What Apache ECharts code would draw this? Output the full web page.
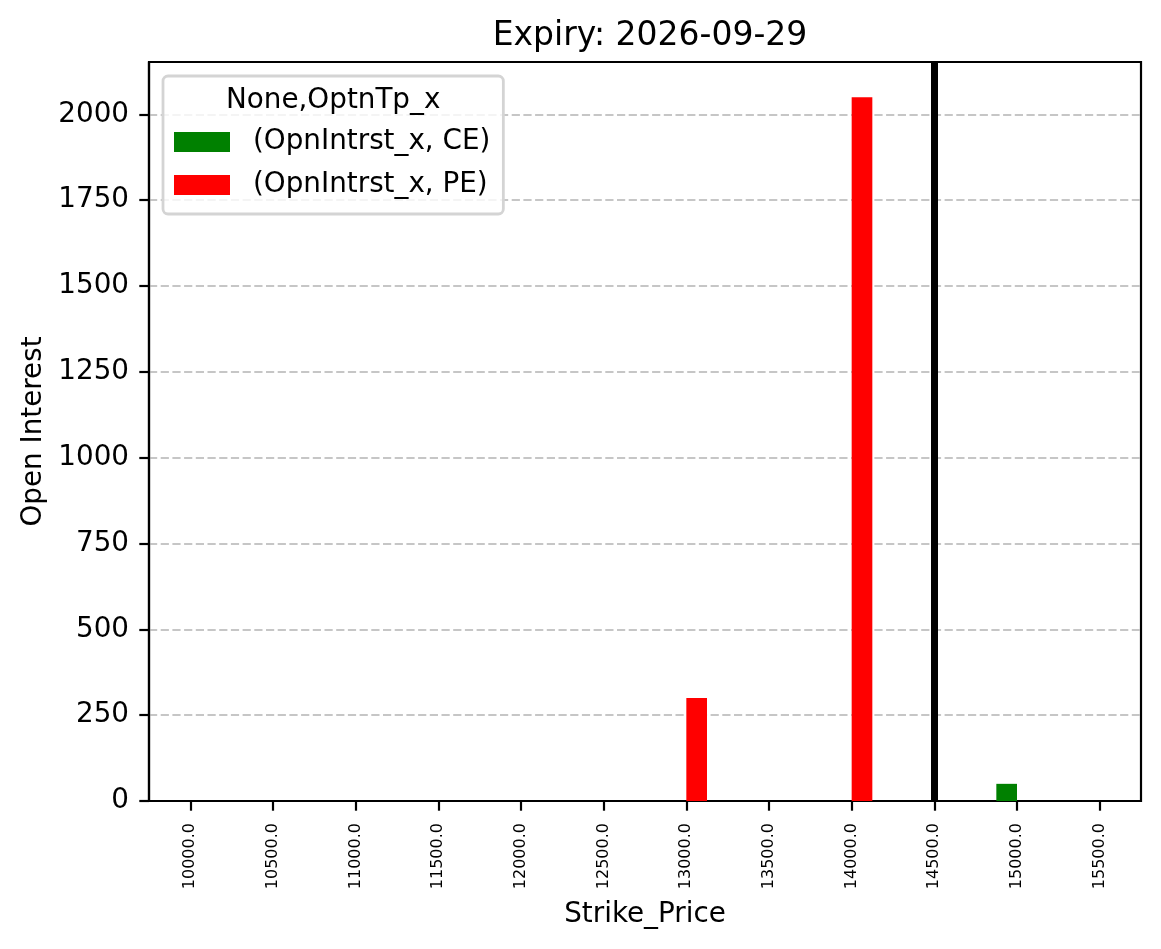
<!DOCTYPE html>
<html>
<head>
<meta charset="utf-8">
<script src="https://cdn.jsdelivr.net/npm/echarts@6/dist/echarts.min.js"></script>
<style>
  html, body { margin: 0; padding: 0; background: #fff; }
  #chart { width: 1161px; height: 949px; }
</style>
</head>
<body>
<div id="chart"></div>
<script>
// strike prices (categories)
var strikes = ['10000.0', '10500.0', '11000.0', '11500.0', '12000.0', '12500.0',
  '13000.0', '13500.0', '14000.0', '14500.0', '15000.0', '15500.0'];
// open interest per option type
var ceValues = [0, 0, 0, 0, 0, 0, 0, 0, 0, 0, 50, 0];
var peValues = [0, 0, 0, 0, 0, 0, 300, 0, 2050, 0, 0, 0];
var yTicks = [0, 250, 500, 750, 1000, 1250, 1500, 1750, 2000];
var spotStrike = '14500.0';

var font = 'DejaVu Sans';
var chart = echarts.init(document.getElementById('chart'));

chart.setOption({
  animation: false,
  backgroundColor: '#fff',
  textStyle: { fontFamily: font },
  title: {
    text: 'Expiry: 2026-09-29',
    left: 645,
    textAlign: 'center',
    top: 15,
    textStyle: { fontFamily: font, fontSize: 33, fontWeight: 'normal', color: '#000' }
  },
  grid: {
    left: 149, right: 20, top: 62, bottom: 148,
    show: true, borderColor: '#000', borderWidth: 2.2,
    containLabel: false
  },
  legend: {
    orient: 'vertical',
    left: 163, top: 76,
    padding: [52, 13, 15, 11],
    itemGap: 15,
    itemWidth: 56, itemHeight: 20,
    icon: 'rect',
    backgroundColor: 'rgba(255,255,255,0.8)',
    borderColor: '#d4d4d4', borderWidth: 2.8, borderRadius: 5,
    textStyle: { fontFamily: font, fontSize: 27.8, color: '#000', lineHeight: 28, padding: [0, 0, 0, 18] },
    data: ['(OpnIntrst_x, CE)', '(OpnIntrst_x, PE)']
  },
  graphic: [{
    type: 'text',
    z: 100,
    left: 226, top: 87,
    style: { text: 'None,OptnTp_x', font: '27.8px "DejaVu Sans"', fill: '#000' }
  }],
  xAxis: {
    type: 'category',
    data: strikes,
    boundaryGap: true,
    name: 'Strike_Price',
    nameLocation: 'middle',
    nameGap: 100,
    nameTextStyle: { fontFamily: font, fontSize: 27.8, color: '#000' },
    axisLine: { lineStyle: { color: '#000', width: 2.2 } },
    axisTick: { show: true, interval: 0, alignWithLabel: true, length: 9.7, lineStyle: { color: '#000', width: 2.2 } },
    axisLabel: { rotate: 90, fontSize: 16, color: '#000', margin: 22, interval: 0 },
    splitLine: { show: false }
  },
  yAxis: {
    type: 'value',
    min: 0, max: 2152.5, interval: 250,
    name: 'Open Interest',
    nameLocation: 'middle',
    nameRotate: 90,
    nameGap: 91,
    nameTextStyle: { fontFamily: font, fontSize: 27.8, color: '#000' },
    axisLine: { show: true, lineStyle: { color: '#000', width: 2.2 } },
    axisTick: { show: true, length: 9.7, customValues: yTicks, lineStyle: { color: '#000', width: 2.2 } },
    axisLabel: {
      fontSize: 27.8, color: '#000', margin: 20, customValues: yTicks,
      formatter: function (v) { return String(v); }
    },
    splitLine: { show: true, lineStyle: { color: '#c6c6c6', width: 2.2, type: [8.2, 3.5] } }
  },
  series: [{
    name: '(OpnIntrst_x, CE)',
    type: 'bar',
    data: ceValues,
    barWidth: '25%',
    barGap: '0%',
    itemStyle: { color: '#008000' }
  }, {
    name: '(OpnIntrst_x, PE)',
    type: 'bar',
    data: peValues,
    barWidth: '25%',
    barGap: '0%',
    itemStyle: { color: '#ff0000' }
  }, {
    // spot line
    name: 'spot',
    type: 'line',
    data: [],
    markLine: {
      silent: true,
      symbol: 'none',
      label: { show: false },
      lineStyle: { color: '#000', width: 7, type: 'solid' },
      data: [{ xAxis: spotStrike }]
    }
  }]
});
</script>
</body>
</html>
